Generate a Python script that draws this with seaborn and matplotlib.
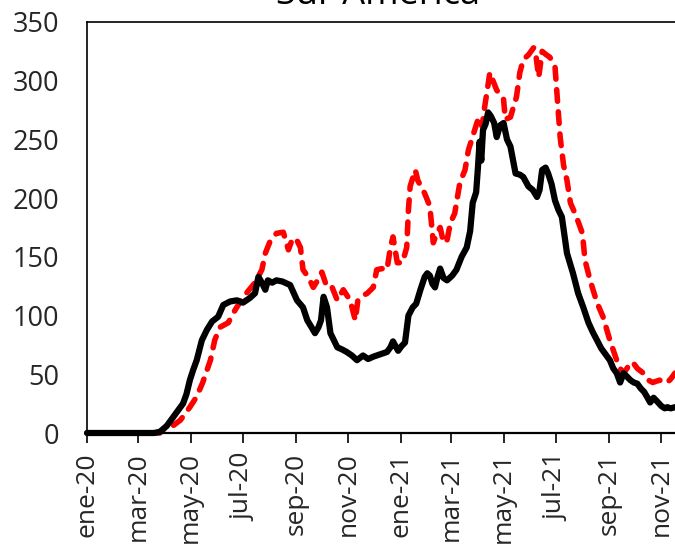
import numpy as np
import pandas as pd
import matplotlib
matplotlib.use("Agg")
import matplotlib.pyplot as plt
import seaborn as sns

title = "Sur América"

black_days = [0, 78, 85, 93, 101, 107, 112, 116, 120, 124,
              128, 134, 140, 146, 153, 159, 167, 175, 182, 190,
              196, 200, 204, 208, 211, 216, 221, 228, 237, 245,
              252, 257, 262, 266, 270, 273, 276, 280, 284, 292,
              298, 303, 309, 315, 322, 328, 334, 342, 350, 354,
              357, 363, 367, 371, 375, 380, 384, 389, 394, 397,
              400, 403, 406, 409, 412, 416, 420, 426, 431, 437,
              443, 447, 450, 454, 456, 458, 460, 462, 465, 468,
              471, 475, 478, 482, 486, 490, 494, 500, 505, 509,
              515, 520, 525, 528, 531, 535, 538, 542, 546, 550,
              554, 560, 567, 573, 579, 585, 590, 595, 600, 605,
              610, 614, 618, 622, 626, 630, 634, 638, 642, 646,
              650, 654, 657, 661, 665, 670, 674, 677, 681, 686]
black_vals = [0, 0, 1, 6, 14, 20, 25, 33, 45, 54,
              62, 79, 88, 95, 99, 109, 112, 113, 111, 115,
              119, 133, 128, 122, 130, 128, 130, 129, 126, 113,
              107, 96, 90, 85, 90, 96, 116, 107, 85, 73,
              71, 69, 66, 62, 66, 63, 65, 67, 69, 73,
              78, 70, 74, 77, 100, 107, 110, 122, 133, 136,
              134, 127, 124, 133, 140, 132, 130, 134, 139, 150,
              158, 172, 196, 205, 225, 248, 232, 258, 263, 273,
              270, 264, 252, 262, 264, 250, 244, 221, 220, 218,
              210, 207, 201, 207, 224, 226, 221, 212, 198, 190,
              184, 153, 136, 119, 107, 94, 86, 79, 72, 67,
              62, 55, 51, 43, 51, 48, 45, 43, 42, 38,
              35, 30, 26, 30, 27, 23, 21, 22, 21, 22]

red_days = [0, 85, 89, 100, 109, 120, 128, 135, 144, 149,
            155, 160, 165, 169, 173, 179, 187, 196, 204, 208,
            214, 221, 229, 235, 240, 245, 249, 252, 258, 264,
            269, 274, 280, 286, 292, 299, 307, 313, 316, 322,
            327, 334, 338, 344, 350, 354, 357, 362, 368, 373,
            375, 377, 383, 386, 394, 400, 404, 408, 412, 416,
            420, 424, 429, 435, 441, 445, 451, 457, 461, 464,
            467, 470, 472, 478, 486, 488, 494, 501, 505, 509,
            515, 521, 524, 527, 531, 536, 540, 546, 548, 552,
            556, 560, 564, 571, 578, 581, 587, 595, 602, 610,
            618, 622, 626, 630, 634, 637, 642, 649, 655, 660,
            668, 673, 677, 681, 686]
red_vals = [0, 0, 3, 6, 11, 22, 31, 43, 62, 79,
            90, 92, 94, 100, 105, 112, 120, 128, 139, 153,
            164, 170, 171, 156, 166, 164, 158, 139, 133, 124,
            130, 137, 124, 124, 113, 122, 113, 96, 113, 117,
            119, 124, 139, 140, 139, 158, 167, 145, 145, 158,
            190, 210, 224, 215, 204, 193, 162, 170, 175, 162,
            164, 179, 187, 213, 224, 241, 255, 269, 261, 278,
            292, 307, 303, 292, 284, 267, 269, 286, 307, 318,
            322, 328, 320, 303, 325, 322, 320, 312, 292, 252,
            228, 215, 196, 184, 170, 147, 130, 111, 99, 79,
            62, 55, 51, 55, 60, 60, 55, 51, 45, 43,
            45, 43, 43, 46, 51]

tick_dates = ["2020-01-01", "2020-03-01", "2020-05-01", "2020-07-01",
              "2020-09-01", "2020-11-01", "2021-01-01", "2021-03-01",
              "2021-05-01", "2021-07-01", "2021-09-01", "2021-11-01"]
tick_labels = ["ene-20", "mar-20", "may-20", "jul-20", "sep-20", "nov-20",
               "ene-21", "mar-21", "may-21", "jul-21", "sep-21", "nov-21"]
y_ticks = [0, 50, 100, 150, 200, 250, 300, 350]

start = pd.Timestamp("2020-01-01")
df_red = pd.DataFrame({"fecha": start + pd.to_timedelta(red_days, unit="D"),
                       "valor": red_vals, "serie": "B"})
df_black = pd.DataFrame({"fecha": start + pd.to_timedelta(black_days, unit="D"),
                         "valor": black_vals, "serie": "A"})

sns.set_theme(style="white")
plt.rcParams["font.family"] = ["Open Sans", "DejaVu Sans"]

fig = plt.figure(figsize=(6.75, 5.49), dpi=100)
ax = fig.add_axes([87 / 675, 1 - 433 / 549, 1 - 87 / 675, (433 - 22) / 549])

sns.lineplot(data=df_red, x="fecha", y="valor", ax=ax, color="#ff0000",
             linewidth=4.0, dashes=False, legend=False, estimator=None)
l_red = ax.lines[-1]
l_red.set_linestyle((0, (2.1, 1.9)))
l_red.set_dash_capstyle("round")
l_red.set_clip_on(False)

sns.lineplot(data=df_black, x="fecha", y="valor", ax=ax, color="black",
             linewidth=4.5, legend=False, estimator=None)
l_black = ax.lines[-1]
l_black.set_solid_capstyle("round")
l_black.set_solid_joinstyle("round")
l_black.set_clip_on(False)

ax.set_xlim(start, start + pd.Timedelta(days=686))
ax.set_ylim(0, 350)
ax.set_xticks(pd.to_datetime(tick_dates))
ax.set_xticklabels(tick_labels, rotation=90, fontsize=19)
ax.set_yticks(y_ticks)
ax.set_yticklabels([str(v) for v in y_ticks], fontsize=19.5)
ax.set_xlabel("")
ax.set_ylabel("")
ax.tick_params(axis="x", direction="out", length=7, width=1.2, color="black",
               pad=7, bottom=True)
ax.tick_params(axis="y", length=0, pad=20)
for side in ["left", "top", "bottom"]:
    ax.spines[side].set_color("black")
    ax.spines[side].set_linewidth(1.2)
ax.spines["bottom"].set_linewidth(1.6)
ax.spines["right"].set_visible(False)
ax.grid(False)

fig.text(378 / 675, 1 - 4.5 / 549, title, ha="center", va="baseline",
         fontsize=26, color="black")

fig.savefig("out.png", dpi=100)
